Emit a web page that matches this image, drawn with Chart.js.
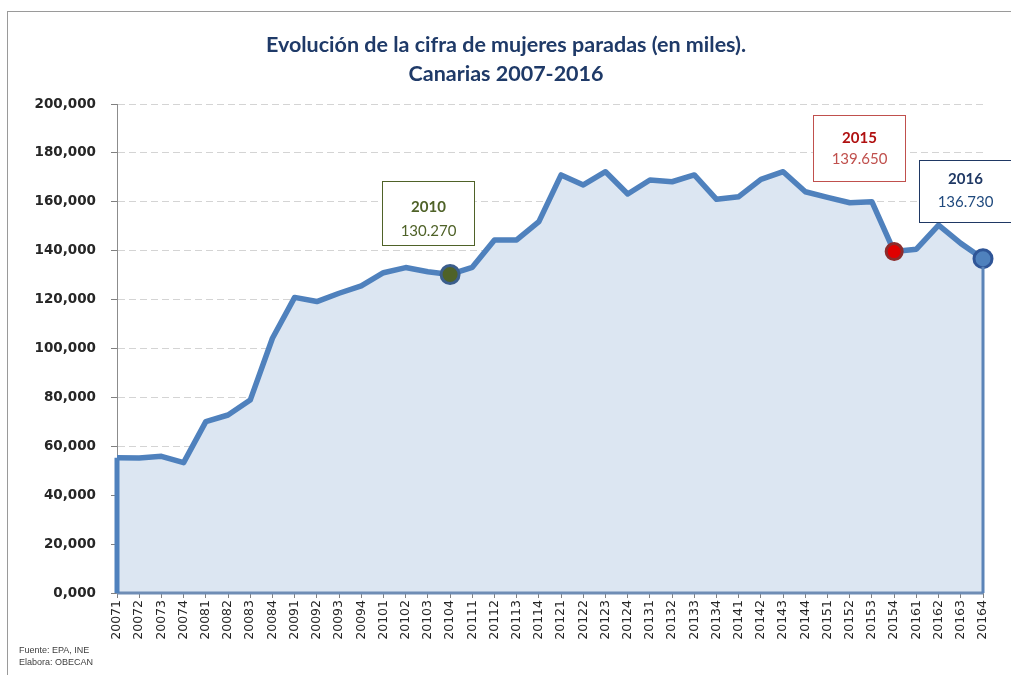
<!DOCTYPE html>
<html>
<head>
<meta charset="utf-8">
<script src="https://cdn.jsdelivr.net/npm/chart.js@4/dist/chart.umd.min.js"></script>
<style>
  html, body { margin: 0; padding: 0; background: #fff; }
</style>
</head>
<body>
<canvas id="chartParadas" width="1011" height="675"></canvas>
<script>
// Trimestres (año + trimestre)
const trimestres = [
    '20071', '20072', '20073', '20074', '20081', '20082', '20083', '20084',
    '20091', '20092', '20093', '20094', '20101', '20102', '20103', '20104',
    '20111', '20112', '20113', '20114', '20121', '20122', '20123', '20124',
    '20131', '20132', '20133', '20134', '20141', '20142', '20143', '20144',
    '20151', '20152', '20153', '20154', '20161', '20162', '20163', '20164'
];

// Mujeres paradas (miles)
const paradas = [
    55.3, 55.2, 55.9, 53.3, 70.1, 72.8, 78.9, 104.2,
    120.9, 119.2, 122.6, 125.6, 131.0, 133.1, 131.4, 130.27,
    133.2, 144.4, 144.4, 151.9, 171.0, 166.9, 172.3, 163.2,
    168.9, 168.2, 171.0, 161.0, 162.1, 169.2, 172.3, 164.1,
    161.8, 159.6, 160.0, 139.65, 140.6, 150.5, 143.0, 136.73
];

const ejeY = { min: 0, max: 200, paso: 20 };

const tituloLineas = [
    'Evolución de la cifra de mujeres paradas (en miles).',
    'Canarias 2007-2016'
];
const fuenteLineas = ['Fuente: EPA, INE', 'Elabora: OBECAN'];

// Puntos destacados (índice en la serie) con su etiqueta
const destacados = [
    { idx: 15, fill: '#4F6228', borde: '#3B5E8C', radio: 9,
      caja: { dx: -68, dy: -93, w: 92, h: 64, borde: '#4F6228' },
      colorAnio: '#4F6228', colorValor: '#4F6228', yAnio: 26, yValor: 50 },
    { idx: 35, fill: '#E00000', borde: '#8C2B2B', radio: 8,
      caja: { dx: -81, dy: -137, w: 92, h: 66, borde: '#C0504D' },
      colorAnio: '#B01010', colorValor: '#C0504D', yAnio: 23, yValor: 44 },
    { idx: 39, fill: '#4F81BD', borde: '#2F5597', radio: 9,
      caja: { dx: -64, dy: -99, w: 92, h: 62, borde: '#1F3864' },
      colorAnio: '#1F3864', colorValor: '#1F497D', yAnio: 19, yValor: 42 }
];

const formatoMiles = v => v.toFixed(3);

const radios = paradas.map((v, i) => {
    const d = destacados.find(p => p.idx === i);
    return d ? d.radio : 0;
});
const rellenos = paradas.map((v, i) => {
    const d = destacados.find(p => p.idx === i);
    return d ? d.fill : '#4F81BD';
});
const bordes = paradas.map((v, i) => {
    const d = destacados.find(p => p.idx === i);
    return d ? d.borde : '#4F81BD';
});

/**
 * Marco, título, fuente, bordes del área y cajas de etiqueta
 */
const decoracion = {
    id: 'decoracion',
    beforeDraw(chart) {
        const ctx = chart.ctx;
        ctx.save();
        ctx.fillStyle = '#FFFFFF';
        ctx.fillRect(0, 0, chart.width, chart.height);
        ctx.strokeStyle = '#9A9A9A';
        ctx.lineWidth = 1;
        ctx.strokeRect(7.5, 11.5, 1200, 1200);
        ctx.restore();
    },
    afterDatasetsDraw(chart) {
        const ctx = chart.ctx;
        const x = chart.scales.x;
        const y = chart.scales.y;
        const base = y.getPixelForValue(0);
        const primero = x.getPixelForValue(0);
        const ultimo = x.getPixelForValue(paradas.length - 1);
        ctx.save();
        ctx.lineCap = 'butt';
        // borde inferior
        ctx.strokeStyle = '#6F8DB5';
        ctx.lineWidth = 3;
        ctx.beginPath();
        ctx.moveTo(primero, base);
        ctx.lineTo(ultimo, base);
        ctx.stroke();
        // lado izquierdo
        ctx.strokeStyle = '#4F81BD';
        ctx.lineWidth = 5;
        ctx.beginPath();
        ctx.moveTo(primero, base);
        ctx.lineTo(primero, y.getPixelForValue(paradas[0]));
        ctx.stroke();
        // lado derecho
        ctx.strokeStyle = '#5B84B8';
        ctx.lineWidth = 3;
        ctx.beginPath();
        ctx.moveTo(ultimo, base);
        ctx.lineTo(ultimo, y.getPixelForValue(paradas[paradas.length - 1]) + 8);
        ctx.stroke();
        ctx.restore();
    },
    afterDraw(chart) {
        const ctx = chart.ctx;
        const x = chart.scales.x;
        const y = chart.scales.y;
        ctx.save();

        // Título
        ctx.fillStyle = '#1F3A68';
        ctx.textAlign = 'center';
        ctx.textBaseline = 'middle';
        ctx.font = 'bold 21.5px Lato';
        ctx.fillText(tituloLineas[0], 506, 45);
        ctx.fillText(tituloLineas[1], 506, 74);

        // Fuente
        ctx.fillStyle = '#404040';
        ctx.textAlign = 'left';
        ctx.font = '9px "Liberation Sans"';
        ctx.fillText(fuenteLineas[0], 19, 651);
        ctx.fillText(fuenteLineas[1], 19, 663);

        // Cajas de etiqueta
        destacados.forEach(d => {
            const px = x.getPixelForValue(d.idx);
            const py = y.getPixelForValue(paradas[d.idx]);
            const bx = Math.round(px + d.caja.dx) + 0.5;
            const by = Math.round(py + d.caja.dy) + 0.5;
            ctx.fillStyle = '#FFFFFF';
            ctx.fillRect(bx, by, d.caja.w, d.caja.h);
            ctx.strokeStyle = d.caja.borde;
            ctx.lineWidth = 1;
            ctx.strokeRect(bx, by, d.caja.w, d.caja.h);
            ctx.textAlign = 'center';
            ctx.textBaseline = 'middle';
            ctx.font = 'bold 15px Lato';
            ctx.fillStyle = d.colorAnio;
            ctx.fillText(trimestres[d.idx].slice(0, 4), bx + d.caja.w / 2, by + d.yAnio);
            ctx.font = '15px Lato';
            ctx.fillStyle = d.colorValor;
            ctx.fillText(formatoMiles(paradas[d.idx]), bx + d.caja.w / 2, by + d.yValor);
        });
        ctx.restore();
    }
};

const ctx = document.getElementById('chartParadas');

new Chart(ctx, {
    type: 'line',
    data: {
        labels: trimestres,
        datasets: [{
            label: 'Mujeres paradas',
            data: paradas,
            borderColor: '#4F81BD',
            borderWidth: 5.5,
            backgroundColor: '#DCE6F2',
            fill: 'origin',
            tension: 0,
            borderJoinStyle: 'round',
            pointRadius: radios,
            pointHoverRadius: radios,
            pointBackgroundColor: rellenos,
            pointBorderColor: bordes,
            pointBorderWidth: 3
        }]
    },
    options: {
        responsive: false,
        animation: false,
        devicePixelRatio: 1,
        layout: {
            padding: { top: 104, right: 28, bottom: 0, left: 0 }
        },
        scales: {
            x: {
                offset: false,
                afterFit: scale => { scale.height = 82; },
                grid: {
                    drawOnChartArea: false,
                    drawTicks: true,
                    tickLength: 5,
                    tickColor: '#808080'
                },
                border: { color: '#7F8FA6', width: 2 },
                ticks: {
                    autoSkip: false,
                    minRotation: 90,
                    maxRotation: 90,
                    padding: 2,
                    color: '#262626',
                    font: { family: 'DejaVu Sans', size: 12.5 }
                }
            },
            y: {
                min: ejeY.min,
                max: ejeY.max,
                afterFit: scale => { scale.width = 117; },
                grid: {
                    color: '#D4D4D4',
                    tickColor: '#808080',
                    tickLength: 6
                },
                border: { color: '#8C8C8C', width: 1, dash: [7, 4] },
                ticks: {
                    stepSize: ejeY.paso,
                    padding: 15,
                    color: '#262626',
                    font: { family: 'DejaVu Sans', size: 13.5, weight: 'bold' },
                    callback: v => formatoMiles(v).replace('.', ',')
                }
            }
        },
        plugins: {
            legend: { display: false },
            title: { display: false },
            tooltip: { enabled: false }
        }
    },
    plugins: [decoracion]
});
</script>
</body>
</html>
